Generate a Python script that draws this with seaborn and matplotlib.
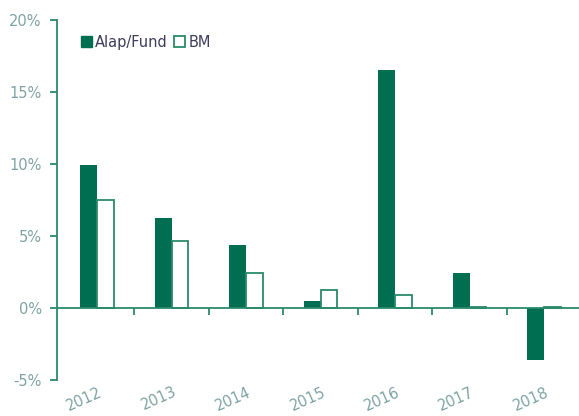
import pandas as pd
import seaborn as sns
import matplotlib.pyplot as plt
import matplotlib.transforms as mtransforms
from matplotlib.patches import Patch

years = ['2012', '2013', '2014', '2015', '2016', '2017', '2018']
fund = [9.9, 6.25, 4.4, 0.5, 16.55, 2.4, -3.6]
bm = [7.5, 4.65, 2.4, 1.25, 0.9, 0.1, 0.1]
series = ['Alap/Fund', 'BM']

green = '#006f51'
axis_green = '#2a8a6a'
label_col = '#7fa3a3'

df = pd.DataFrame({
    'year': years * 2,
    'value': fund + bm,
    'series': [series[0]] * len(years) + [series[1]] * len(years),
})

sns.set_style("white")
plt.rcParams['font.family'] = ['Liberation Sans Narrow', 'DejaVu Sans']

fig = plt.figure(figsize=(5.79, 4.16), dpi=100)
ax = fig.add_axes([57 / 579, 36 / 416, 522 / 579, 360 / 416])

sns.barplot(data=df, x='year', y='value', hue='series', ax=ax,
            palette=[green, 'white'], width=0.45, legend=False,
            edgecolor=green, linewidth=1.2, saturation=1)
for bar in ax.containers[0]:
    bar.set_linewidth(0)
for bar in ax.containers[1]:
    bar.set_edgecolor(axis_green)
    bar.set_linewidth(1.3)

ax.set_ylim(-5, 20)
ax.set_xlim(-0.54, 6.47)
ax.set_yticks([-5, 0, 5, 10, 15, 20])
ax.set_yticklabels([f'{v}%' for v in [-5, 0, 5, 10, 15, 20]])
ax.set_xlabel('')
ax.set_ylabel('')

for s in ['top', 'right']:
    ax.spines[s].set_visible(False)
ax.spines['left'].set_color(axis_green)
ax.spines['left'].set_linewidth(1.3)
ax.spines['bottom'].set_position(('data', 0))
ax.spines['bottom'].set_color(axis_green)
ax.spines['bottom'].set_linewidth(1.3)

ax.tick_params(axis='y', left=True, direction='out', length=5, width=1.3,
               color=axis_green, labelcolor=label_col, labelsize=10.5, pad=6)
ax.set_xticks(range(len(years)))
ax.set_xticklabels(years, rotation=24)
ax.set_xticks([i + 0.5 for i in range(len(years) - 1)], minor=True)
ax.tick_params(axis='x', which='major', bottom=False, length=0, pad=55,
               labelcolor=label_col, labelsize=10.5)
ax.tick_params(axis='x', which='minor', bottom=True, direction='out',
               length=5, width=1.3, color=axis_green)

# shift year labels slightly left, like the reference
shift = mtransforms.ScaledTranslation(-13 / 100, 0, fig.dpi_scale_trans)
for lbl in ax.get_xticklabels():
    lbl.set_transform(lbl.get_transform() + shift)

handles = [Patch(facecolor=green, edgecolor=green, label=series[0]),
           Patch(facecolor='white', edgecolor=axis_green, linewidth=1.3, label=series[1])]
leg = ax.legend(handles=handles, loc='upper left', bbox_to_anchor=(0.02, 0.995),
                ncol=2, frameon=False, fontsize=10.5, handlelength=0.8,
                handleheight=0.8, handletextpad=0.2, columnspacing=0.4)
for t in leg.get_texts():
    t.set_color('#3d3d5c')

fig.savefig('out.png', dpi=100)
